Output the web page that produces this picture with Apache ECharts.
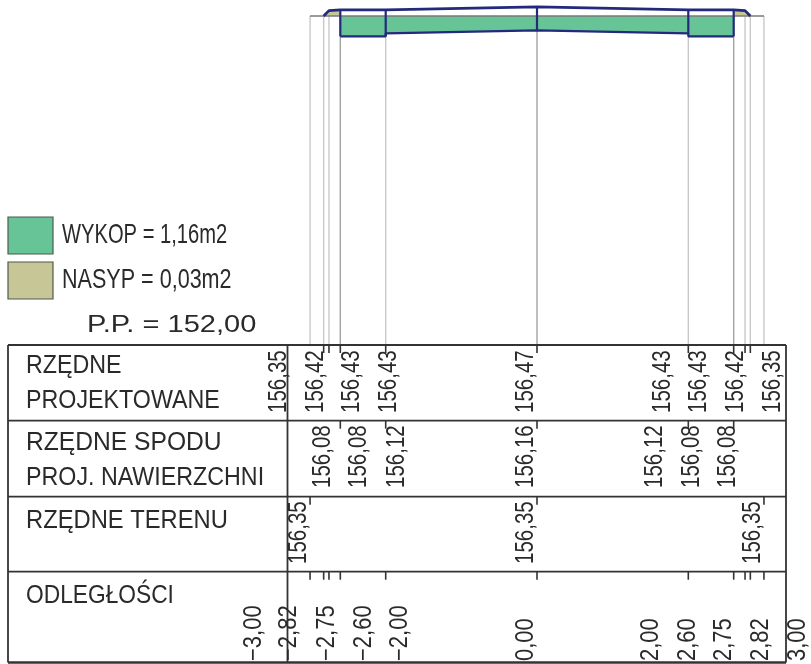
<!DOCTYPE html>
<html><head><meta charset="utf-8">
<style>html,body{margin:0;padding:0;background:#fff}#c{width:811px;height:664px}</style>
<script src="https://cdn.jsdelivr.net/npm/echarts@6/dist/echarts.min.js"></script>
</head><body><div id="c"></div>
<script>
// ---- data (stations in metres, levels in metres) ----
const stations = [-3, -2.82, -2.75, -2.6, -2, 0, 2, 2.6, 2.75, 2.82, 3];
const terrainStations = [-3, 0, 3];
const terrainLevels = [156.35, 156.35, 156.35];
const projectStations = [-2.82, -2.75, -2.6, -2, 0, 2, 2.6, 2.75, 2.82];
const projectLevels = [156.35, 156.42, 156.43, 156.43, 156.47, 156.43, 156.43, 156.42, 156.35];
const subgradeStations = [-2.6, -2, -2, 0, 2, 2, 2.6];
const subgradeLevels = [156.08, 156.08, 156.12, 156.16, 156.12, 156.08, 156.08];
const datumLevel = 152;
const rowProject = ['156,35','156,42','156,43','156,43','156,47','156,43','156,43','156,42','156,35'];
const rowSubgrade = ['156,08','156,08','156,12','156,16','156,12','156,08','156,08'];
const rowTerrain = ['156,35','156,35','156,35'];
const rowDistance = ['\u22123,00','\u22122,82','\u22122,75','\u22122,60','\u22122,00','0,00','2,00','2,60','2,75','2,82','3,00'];
const rowHeads = [['RZ\u0118DNE','PROJEKTOWANE'],['RZ\u0118DNE SPODU','PROJ. NAWIERZCHNI'],['RZ\u0118DNE TERENU'],['ODLEG\u0141O\u015aCI']];
const legendTexts = ['WYKOP = 1,16m2','NASYP = 0,03m2','P.P. = 152,00'];

// ---- layout ----
const NAVY = '#232a7c', GREEN = '#66c497', OLIVE = '#c6c696', INK = '#2a2a2a';
const rowY = [345, 420.7, 496.7, 571.7, 662.5];
const tableL = 8, tableDiv = 287.5, tableR = 786;
const labelRows = [
  {texts: rowProject, bottom: 413, sx: 0.82, xs: [279,316,352,389,526,663,699,736,773]},
  {texts: rowSubgrade, bottom: 488, sx: 0.82, xs: [323,359,397,526,655,692,728]},
  {texts: rowTerrain, bottom: 564, sx: 0.82, xs: [299,526,753]},
  {texts: rowDistance, bottom: 661, sx: 0.88, xs: [254,289,327,364,400,526,651,688,724,761,798]}
];
const tickRows = [
  [-2.82,-2.75,-2.6,-2,0,2,2.6,2.75,2.82],
  [-2.6,-2,0,2,2.6],
  [-3,0,3],
  stations
];
const tickLen = 8;
const SANS = '"Liberation Sans",sans-serif';

function zip(a,b){return a.map((v,i)=>[v,b[i]]);}
const surfaceAt = s => { const i = projectStations.indexOf(s); return i>=0 ? projectLevels[i] : terrainLevels[0]; };

function polySeries(points, color, z){
  return {type:'custom', coordinateSystem:'cartesian2d', silent:true, z, clip:false,
    data: points, encode:{x:0,y:1},
    renderItem(p, api){
      if(p.dataIndex!==0) return null;
      return {type:'polygon', shape:{points: points.map(q=>api.coord(q))}, style:{fill:color}};
    }};
}
const cutPoly = [[-2.6,terrainLevels[0]],[2.6,terrainLevels[0]]].concat(zip(subgradeStations,subgradeLevels).reverse());
const fillL = [[-2.82,156.35],[-2.75,156.42],[-2.6,156.43],[-2.6,156.35]];
const fillR = [[2.82,156.35],[2.75,156.42],[2.6,156.43],[2.6,156.35]];

const darkDrops = [-2.6,0,2.6];
const series = [
  polySeries(cutPoly, GREEN, 2),
  polySeries(fillL, OLIVE, 2),
  polySeries(fillR, OLIVE, 2),
  // grey drop lines from the section to the datum
  {type:'custom', coordinateSystem:'cartesian2d', silent:true, z:1, clip:false,
   data: stations.map(s=>[s,surfaceAt(s)]), encode:{x:0,y:1},
   renderItem(p, api){
     const s=api.value(0), a=api.coord([s,api.value(1)]), b=api.coord([s,datumLevel]);
     return {type:'line', shape:{x1:a[0],y1:a[1],x2:b[0],y2:b[1]},
       style:{stroke: darkDrops.includes(s)?'#a2a2a2':'#c9c9c9', lineWidth:1.4}};
   }},
  {type:'line', data:zip(terrainStations,terrainLevels), showSymbol:false, silent:true, z:3, clip:false,
   lineStyle:{color:'#7a7a7a',width:1.5}},
  // navy verticals through the structure
  {type:'custom', coordinateSystem:'cartesian2d', silent:true, z:4, clip:false,
   data:[-2.6,-2,0,2,2.6].map(s=>[s,surfaceAt(s),subgradeLevels[subgradeStations.indexOf(s)]]),
   encode:{x:0,y:1},
   renderItem(p, api){
     const s=api.value(0), a=api.coord([s,api.value(1)]), b=api.coord([s,api.value(2)]);
     return {type:'line', shape:{x1:a[0],y1:a[1],x2:b[0],y2:b[1]}, style:{stroke:NAVY,lineWidth:2.2}};
   }},
  {type:'line', data:zip(projectStations,projectLevels), showSymbol:false, silent:true, z:5, clip:false,
   lineStyle:{color:NAVY,width:2.8}},
  {type:'line', data:zip(subgradeStations,subgradeLevels), showSymbol:false, silent:true, z:5, clip:false,
   lineStyle:{color:NAVY,width:2.2}},
  // ticks below each table rule
  {type:'custom', coordinateSystem:'cartesian2d', silent:true, z:6, clip:false,
   data: tickRows.flatMap((r,ri)=>r.map(s=>[s,datumLevel,ri])), encode:{x:0,y:1},
   renderItem(p, api){
     const x=api.coord([api.value(0),datumLevel])[0], y=rowY[api.value(2)];
     return {type:'line', shape:{x1:x,y1:y,x2:x,y2:y+tickLen}, style:{stroke:'#333',lineWidth:1.6}};
   }}
];

// ---- static table frame and rotated value labels ----
const g = [];
function rule(x1,y1,x2,y2,w){g.push({type:'line',silent:true,z:10,shape:{x1,y1,x2,y2},style:{stroke:'#333',lineWidth:w||1.8}});}
rowY.forEach((y,i)=>rule(tableL,y,tableR,y,i===4?2.4:1.8));
rule(tableL,rowY[0],tableL,rowY[4]); rule(tableR,rowY[0],tableR,rowY[4]); rule(tableDiv,rowY[0],tableDiv,rowY[4]);
function txt(t,x,y,size,sx,opt){
  g.push(Object.assign({type:'text',silent:true,z:11,x,y,scaleX:sx||1,
    style:{text:t,fill:INK,font:size+'px '+SANS,textAlign:'left',textVerticalAlign:'middle'}},opt||{}));
}
labelRows.forEach(r=>r.texts.forEach((t,i)=>txt(t,r.xs[i],r.bottom,25,r.sx,{rotation:Math.PI/2})));
const headY=[[366,401],[443,478],[521],[596]];
const headSx=[[0.93,0.93],[0.985,0.93],[0.95,0],[0.91,0]];
rowHeads.forEach((ls,i)=>ls.forEach((t,j)=>txt(t,26,headY[i][j],25,headSx[i][j])));
txt(legendTexts[0],62,235,28,0.72);
txt(legendTexts[1],62,280,28,0.77);
txt(legendTexts[2],87,325,24,1.21);
[[217,GREEN],[262,OLIVE]].forEach(([y,c])=>g.push({type:'rect',silent:true,z:10,shape:{x:8,y,width:45,height:37},style:{fill:c,stroke:'#4d5a4d',lineWidth:1.2}}));

const chart = echarts.init(document.getElementById('c'),null,{renderer:'canvas'});
const scale = 75.65;
chart.setOption({
  animation:false, backgroundColor:'#fff',
  grid:{left:537-3*scale, width:6*scale, top:345-4.5*scale, height:4.5*scale},
  xAxis:{type:'value',min:-3,max:3,show:false},
  yAxis:{type:'value',min:datumLevel,max:156.5,show:false},
  series, graphic:{elements:g}
});
</script></body></html>
